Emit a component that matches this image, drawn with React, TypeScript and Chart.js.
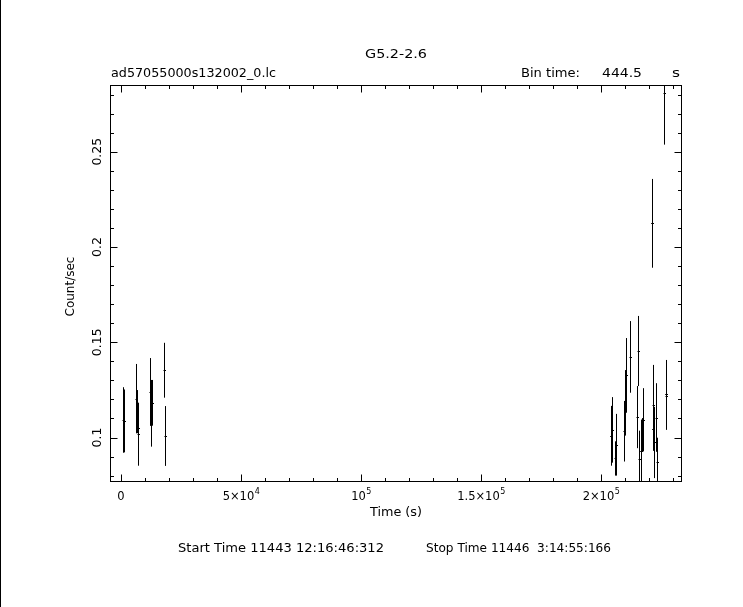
import React, { useEffect, useRef } from "react";
import { Chart, registerables } from "chart.js";

Chart.register(...registerables);

// ---- data ----
const times = [
  958, 1375, 6250, 6667, 6958, 7208, 12083, 12375, 12792, 18042, 18333,
  204042, 204458, 205958, 206375, 209583, 210000, 210417, 212208, 215125,
  215542, 215958, 216542, 217083, 217625, 221125, 221542, 221792, 222208,
  223042, 223458, 226375, 226958, 227208,
];
const rates = [
  0.1092, 0.1087, 0.1204, 0.1136, 0.1051, 0.1017, 0.1239, 0.1127, 0.1182, 0.1353, 0.1008,
  0.1009, 0.104, 0.089, 0.0962, 0.1033, 0.1182, 0.1326, 0.1423, 0.1107,
  0.1454, 0.0886, 0.0929, 0.1015, 0.1093, 0.2124, 0.1045, 0.1171, 0.0974,
  0.1105, 0.0874, 0.2806, 0.123, 0.122,
];
const errors = [
  0.0172, 0.0165, 0.0182, 0.0113, 0.0131, 0.0165, 0.0178, 0.0175, 0.012, 0.0144, 0.0157,
  0.0157, 0.0172, 0.009, 0.0162, 0.0159, 0.0172, 0.0196, 0.0188, 0.0163,
  0.0184, 0.015, 0.0165, 0.0087, 0.0166, 0.0233, 0.0115, 0.021, 0.0187,
  0.018, 0.0125, 0.0269, 0.0177, 0.018,
];
const binTime = 444.5;

const xMajorTicks = [0, 50000, 100000, 150000, 200000];
const xTickBase = ["0", "5×10", "10", "1.5×10", "2×10"];
const xTickExp = ["", "4", "5", "5", "5"];
const xMinorStep = 10000;
const yMajorTicks = [0.1, 0.15, 0.2, 0.25];
const yTickLabels = ["0.1", "0.15", "0.2", "0.25"];
const yMinorStep = 0.01;

const xRange = [-4583, 233750];
const yRange = [0.07665, 0.285];

const titleText = "G5.2-2.6";
const fileText = "ad57055000s132002_0.lc";
const binLabel = "Bin time:";
const binValue = "444.5";
const binUnit = "s";
const xTitle = "Time (s)";
const yTitle = "Count/sec";
const footerStart = "Start Time 11443 12:16:46:312";
const footerStop = "Stop Time 11446  3:14:55:166";

const FONT = "DejaVu Sans";

function fitText(ctx: CanvasRenderingContext2D, text: string, left: number, right: number, cy: number, size: number) {
  ctx.save();
  ctx.font = `${size}px '${FONT}'`;
  ctx.textAlign = "left";
  ctx.textBaseline = "middle";
  const w = ctx.measureText(text).width;
  const sx = (right - left) / w;
  ctx.translate(left, cy);
  ctx.scale(sx, 1);
  ctx.fillText(text, 0, 0);
  ctx.restore();
}

const framePlugin = {
  id: "pgframe",
  afterDatasetsDraw(chart: any) {
    const { ctx, chartArea: a } = chart;
    const xs = chart.scales.x;
    const ys = chart.scales.y;
    ctx.save();
    ctx.beginPath();
    ctx.rect(a.left, a.top, a.right - a.left, a.bottom - a.top);
    ctx.clip();
    ctx.strokeStyle = "#000";
    ctx.lineWidth = 1;
    for (let i = 0; i < times.length; i++) {
      const px = Math.round(xs.getPixelForValue(times[i])) + 0.5;
      const y1 = ys.getPixelForValue(rates[i] - errors[i]);
      const y2 = ys.getPixelForValue(rates[i] + errors[i]);
      ctx.beginPath();
      ctx.moveTo(px, y1);
      ctx.lineTo(px, y2);
      ctx.stroke();
      const cy = Math.round(ys.getPixelForValue(rates[i])) + 0.5;
      const xl = xs.getPixelForValue(times[i] - binTime / 2);
      const xr = xs.getPixelForValue(times[i] + binTime / 2);
      ctx.beginPath();
      ctx.moveTo(Math.min(xl, px - 1), cy);
      ctx.lineTo(Math.max(xr, px + 1.5), cy);
      ctx.stroke();
    }
    ctx.restore();
  },
  afterDraw(chart: any) {
    const { ctx, chartArea: a } = chart;
    const xs = chart.scales.x;
    const ys = chart.scales.y;
    ctx.save();
    ctx.strokeStyle = "#000";
    ctx.fillStyle = "#000";
    ctx.lineWidth = 1;
    const L = a.left + 0.5, R = a.right - 0.5, T = a.top + 0.5, B = a.bottom - 0.5;
    ctx.strokeRect(L, T, R - L, B - T);
    const majorLen = 7, minorLen = 3.5;
    const x0 = Math.ceil(xRange[0] / xMinorStep) * xMinorStep;
    for (let v = x0; v <= xRange[1]; v += xMinorStep) {
      const isMajor = xMajorTicks.some((m) => Math.abs(m - v) < 1);
      const len = isMajor ? majorLen : minorLen;
      const px = Math.round(xs.getPixelForValue(v)) + 0.5;
      ctx.beginPath();
      ctx.moveTo(px, B);
      ctx.lineTo(px, B - len);
      ctx.moveTo(px, T);
      ctx.lineTo(px, T + len);
      ctx.stroke();
    }
    const y0 = Math.ceil(yRange[0] / yMinorStep - 1e-6) * yMinorStep;
    for (let k = 0; ; k++) {
      const v = y0 + k * yMinorStep;
      if (v > yRange[1]) break;
      const isMajor = yMajorTicks.some((m) => Math.abs(m - v) < 1e-6);
      const len = isMajor ? majorLen : minorLen;
      const py = Math.round(ys.getPixelForValue(v)) + 0.5;
      ctx.beginPath();
      ctx.moveTo(L, py);
      ctx.lineTo(L + len, py);
      ctx.moveTo(R, py);
      ctx.lineTo(R - len, py);
      ctx.stroke();
    }
    // x tick labels
    const base = `11.5px '${FONT}'`;
    const sup = `8px '${FONT}'`;
    ctx.textBaseline = "alphabetic";
    for (let i = 0; i < xMajorTicks.length; i++) {
      const px = xs.getPixelForValue(xMajorTicks[i]);
      ctx.font = base;
      const wb = ctx.measureText(xTickBase[i]).width;
      ctx.font = sup;
      const we = xTickExp[i] ? ctx.measureText(xTickExp[i]).width : 0;
      const sx = px - (wb + we) / 2;
      ctx.font = base;
      ctx.textAlign = "left";
      ctx.fillText(xTickBase[i], sx, a.bottom + 18);
      if (xTickExp[i]) {
        ctx.font = sup;
        ctx.fillText(xTickExp[i], sx + wb + 0.5, a.bottom + 12);
      }
    }
    // y tick labels (rotated)
    ctx.font = `12.5px '${FONT}'`;
    ctx.textAlign = "center";
    ctx.textBaseline = "middle";
    for (let i = 0; i < yMajorTicks.length; i++) {
      const py = ys.getPixelForValue(yMajorTicks[i]);
      ctx.save();
      ctx.translate(a.left - 12.5, py);
      ctx.rotate(-Math.PI / 2);
      ctx.fillText(yTickLabels[i], 0, 0);
      ctx.restore();
    }
    // y title (rotated)
    const midX = (a.left + a.right) / 2;
    const midY = (a.top + a.bottom) / 2;
    ctx.font = `12px '${FONT}'`;
    ctx.save();
    ctx.translate(a.left - 39, midY + 3);
    ctx.rotate(-Math.PI / 2);
    ctx.fillText(yTitle, 0, 0);
    ctx.restore();
    ctx.restore();
    // x title
    fitText(ctx, xTitle, midX - 26, midX + 26, a.bottom + 31, 12.5);
    // top texts
    fitText(ctx, titleText, midX - 31, midX + 31, a.top - 30, 12.5);
    fitText(ctx, fileText, a.left + 1, 276, a.top - 11, 12.5);
    fitText(ctx, binLabel, 521, 580, a.top - 11, 12.5);
    fitText(ctx, binValue, 602, 642, a.top - 11, 12.5);
    fitText(ctx, binUnit, 672, 680, a.top - 11, 12.5);
    // footer
    fitText(ctx, footerStart, 178, 384, a.bottom + 67, 12.5);
    fitText(ctx, footerStop, 426, 611, a.bottom + 67, 12.5);
  },
};

export default function App() {
  const ref = useRef<HTMLCanvasElement | null>(null);
  useEffect(() => {
    if (!ref.current) return;
    const chart = new Chart(ref.current, {
      type: "scatter",
      data: {
        datasets: [
          {
            data: times.map((t, i) => ({ x: t, y: rates[i] })),
            pointRadius: 0,
            borderColor: "#000",
            backgroundColor: "#000",
            showLine: false,
          },
        ],
      },
      options: {
        animation: false,
        responsive: true,
        maintainAspectRatio: false,
        layout: { padding: { left: 110, top: 85, right: 61, bottom: 125 } },
        plugins: { legend: { display: false }, tooltip: { enabled: false }, title: { display: false } },
        scales: {
          x: { type: "linear", min: xRange[0], max: xRange[1], display: false },
          y: { type: "linear", min: yRange[0], max: yRange[1], display: false },
        },
      },
      plugins: [framePlugin],
    });
    return () => chart.destroy();
  }, []);
  return (
    <div style={{ position: "fixed", left: 0, top: 0, width: 743, height: 607, background: "#fff" }}>
      <div style={{ position: "absolute", left: 0, top: 0, width: 1, height: 607, background: "#000" }} />
      <canvas ref={ref} />
    </div>
  );
}
